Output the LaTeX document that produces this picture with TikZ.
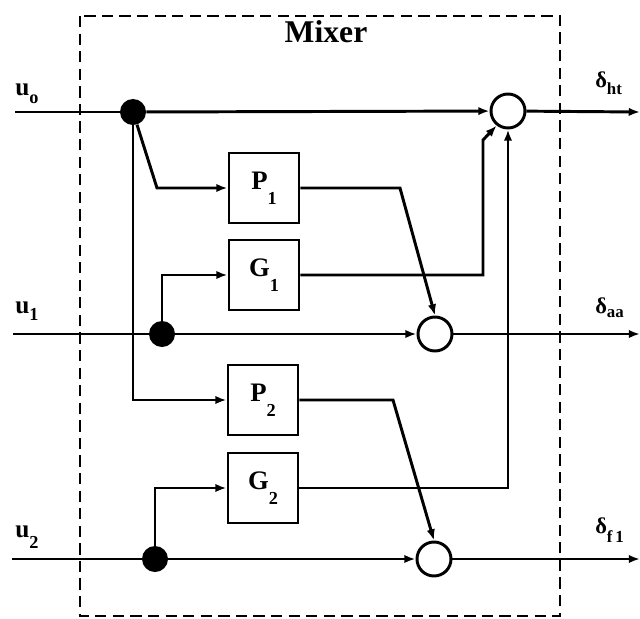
\documentclass[tikz,border=0pt]{standalone}
\usepackage{fontspec}
\setmainfont{Liberation Serif}
\usetikzlibrary{arrows.meta,positioning,calc}
\tikzset{
  blk/.style={draw,line width=2.1pt,minimum width=1.75cm,minimum height=1.75cm,inner sep=0pt,font=\fontsize{19}{22}\selectfont\bfseries},
  sumc/.style={draw,circle,fill=white,line width=2.1pt,minimum size=0.85cm,inner sep=0pt},
  jdot/.style={circle,fill=black,minimum size=0.65cm,inner sep=0pt},
  sig/.style={line width=2.1pt},
  arr/.style={-{Latex[length=8pt,width=6pt]},line width=2.1pt},
  ulbl/.style={anchor=base west,font=\fontsize{18}{22}\selectfont\bfseries,inner sep=0pt},
  dlbl/.style={anchor=base west,font=\fontsize{16}{20}\selectfont\bfseries,inner sep=0pt},
  frame/.style={line width=1.8pt,dash pattern=on 8pt off 4.5pt},
}
\newcommand{\lsub}[2][5.5pt]{\raisebox{-#1}{\fontsize{13}{13}\selectfont #2}}

\begin{document}
\begin{tikzpicture}[x=0.025cm,y=-0.025cm]
\useasboundingbox (0,0) rectangle (640,619);
\draw[frame] (80,16) rectangle (560,616);
\node[anchor=base,inner sep=0pt,font=\fontsize{22.5}{26}\selectfont\bfseries] (title) at (326,42) {Mixer};
% inputs, outputs
\coordinate (in0) at (15,112); \coordinate (in1) at (13,334); \coordinate (in2) at (12,559);
\coordinate (out0) at (640,112); \coordinate (out1) at (640,334); \coordinate (out2) at (640,559);
\node[ulbl] (u0) at (15,95) {u\lsub[6pt]{o}};
\node[ulbl] (u1) at (15,313) {u\lsub[5pt]{1}};
\node[ulbl] (u2) at (15,537) {u\lsub[8pt]{2}};
\node[dlbl] (d0) at (595,87) {δ\lsub[5.5pt]{\fontsize{12}{12}\selectfont ht}};
\node[dlbl] (d1) at (595,313) {δ\lsub[3pt]{\fontsize{12}{12}\selectfont aa}};
\node[dlbl] (d2) at (595,533) {δ\lsub[6.5pt]{\fontsize{12}{12}\selectfont f\,1}};
% blocks
\node[blk] (p1) at (264,188) {P\lsub[11pt]{1}};
\node[blk] (g1) at (264,275) {G\lsub[11pt]{1}};
\node[blk] (p2) at (263,400) {P\lsub[11pt]{2}};
\node[blk] (g2) at (263,488) {G\lsub[11pt]{2}};
\node[sumc] (s0) at (508,111) {};
\node[sumc] (s1) at (435,334) {};
\node[sumc] (s2) at (434,559) {};
\node[jdot] (j0) at (133,112) {};
\node[jdot] (j1) at (162,334) {};
\node[jdot] (j2) at (155,559) {};
% signal lines
\draw[sig] (in0) -- (j0); \draw[arr] (j0) -- (s0);
\draw[sig] (in1) -- (j1); \draw[arr] (j1) -- (s1);
\draw[sig] (in2) -- (j2); \draw[arr] (j2) -- (s2);
\foreach \i in {0,1,2} \draw[arr] (s\i) -- (out\i);
\draw[arr] (j0) -- (157,188) -- (p1);
\draw[arr] (j0) |- (p2);
\draw[arr] (j1) |- (g1);
\draw[arr] (j2) |- (g2);
\draw[arr] (p1) -- (400,188) -- (s1.north);
\draw[arr] (p2) -- (393,400) -- (s2.north);
\draw[arr] (g1) -- (483,275) -- (483,140) -- (s0.232);
\draw[arr] (g2) -| (s0);
\end{tikzpicture}
\end{document}
